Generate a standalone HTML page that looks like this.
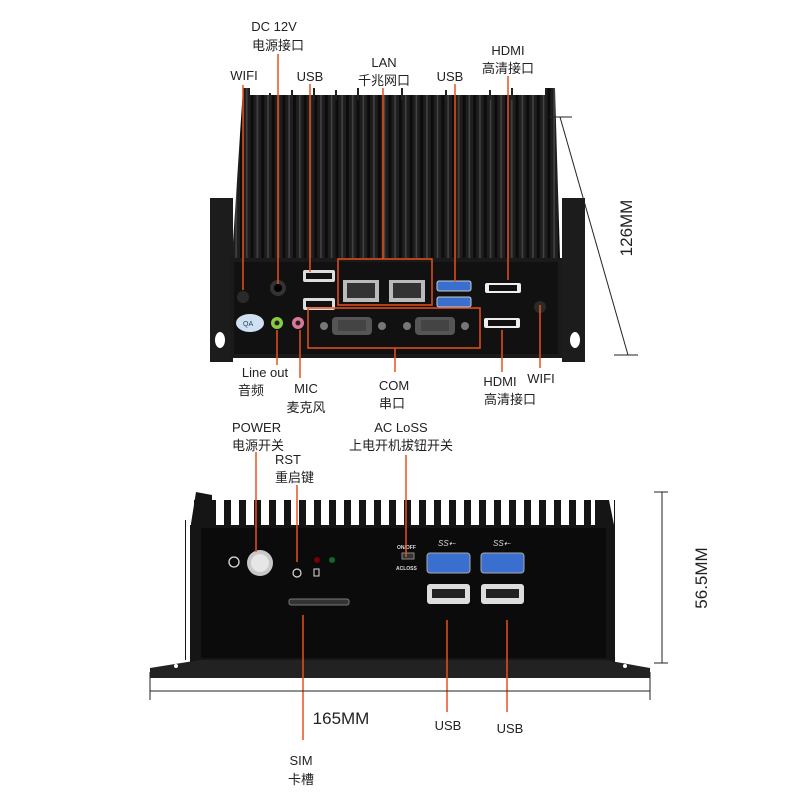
<!DOCTYPE html>
<html><head><meta charset="utf-8"><style>
html,body{margin:0;padding:0;background:#fff;width:800px;height:800px;overflow:hidden}
svg text{font-family:"Liberation Sans","Noto Sans CJK SC",sans-serif;font-size:13px;fill:#222}
</style></head><body>
<svg width="800" height="800" viewBox="0 0 800 800" xmlns="http://www.w3.org/2000/svg">
<defs>
<pattern id="fins" x="240" y="0" width="10.6" height="10" patternUnits="userSpaceOnUse">
<rect width="10.6" height="10" fill="#1e1e1e"/><rect x="0" width="3" height="10" fill="#0c0c0c"/><rect x="6" width="1.5" height="10" fill="#444"/>
</pattern>
<pattern id="finsb" x="190" y="0" width="15" height="10" patternUnits="userSpaceOnUse">
<rect width="15" height="10" fill="#fff"/><rect x="4" width="7" height="10" fill="#151515"/>
</pattern>
</defs>

<!-- TOP DEVICE -->
<path d="M210 198 L233 198 L233 362 L210 362 Z" fill="#1c1c1c"/>
<path d="M562 198 L585 198 L585 362 L562 362 Z" fill="#1c1c1c"/>
<ellipse cx="220" cy="340" rx="5" ry="8" fill="#fff"/>
<ellipse cx="575" cy="340" rx="5" ry="8" fill="#fff"/>
<path d="M243 88 L250 88 L250 95 L545 95 L545 88 L555 88 L560 258 L232 258 Z" fill="url(#fins)"/>
<g stroke="#222" stroke-width="2">
<line x1="270" y1="93" x2="270" y2="100"/><line x1="292" y1="90" x2="292" y2="100"/><line x1="314" y1="88" x2="314" y2="100"/>
<line x1="336" y1="90" x2="336" y2="100"/><line x1="358" y1="88" x2="358" y2="100"/><line x1="402" y1="88" x2="402" y2="100"/>
<line x1="446" y1="90" x2="446" y2="100"/><line x1="490" y1="90" x2="490" y2="100"/><line x1="512" y1="88" x2="512" y2="100"/>
</g>
<rect x="230" y="258" width="332" height="100" fill="#1a1a1a"/>
<rect x="234" y="262" width="324" height="92" fill="#111"/>
<circle cx="278" cy="288" r="8" fill="#333"/><circle cx="278" cy="288" r="4" fill="#000"/>
<rect x="303" y="270" width="32" height="12" rx="2" fill="#ddd"/><rect x="306" y="273" width="26" height="6" fill="#111"/>
<rect x="303" y="298" width="32" height="12" rx="2" fill="#ddd"/><rect x="306" y="301" width="26" height="6" fill="#111"/>
<rect x="343" y="280" width="36" height="22" fill="#bbb"/><rect x="347" y="283" width="28" height="15" fill="#333"/>
<rect x="389" y="280" width="36" height="22" fill="#bbb"/><rect x="393" y="283" width="28" height="15" fill="#333"/>
<rect x="437" y="281" width="34" height="10" rx="2" fill="#3a6fd0" stroke="#ccc"/>
<rect x="437" y="297" width="34" height="10" rx="2" fill="#3a6fd0" stroke="#ccc"/>
<rect x="485" y="283" width="36" height="10" rx="2" fill="#eee"/><rect x="489" y="285" width="28" height="6" fill="#111"/>
<rect x="484" y="318" width="36" height="10" rx="2" fill="#eee"/><rect x="488" y="320" width="28" height="6" fill="#111"/>
<circle cx="243" cy="297" r="6" fill="#2a2a2a"/><circle cx="540" cy="307" r="6" fill="#2a2a2a"/>
<ellipse cx="250" cy="323" rx="14" ry="9" fill="#cfe0f3"/><text x="243" y="326" style="font-size:7px;fill:#245">QA</text>
<circle cx="277" cy="323" r="6" fill="#8c4"/><circle cx="277" cy="323" r="2.5" fill="#222"/>
<circle cx="298" cy="323" r="6" fill="#d79"/><circle cx="298" cy="323" r="2.5" fill="#222"/>
<rect x="332" y="317" width="40" height="18" rx="4" fill="#555"/><rect x="338" y="320" width="28" height="11" fill="#444"/>
<rect x="415" y="317" width="40" height="18" rx="4" fill="#555"/><rect x="421" y="320" width="28" height="11" fill="#444"/>
<circle cx="324" cy="326" r="4" fill="#777"/><circle cx="382" cy="326" r="4" fill="#777"/>
<circle cx="407" cy="326" r="4" fill="#777"/><circle cx="465" cy="326" r="4" fill="#777"/>
<g stroke="#e8501c" stroke-width="1.5" fill="none">
<line x1="243" y1="85" x2="243" y2="290"/>
<line x1="278" y1="54" x2="278" y2="284"/>
<line x1="310" y1="84" x2="310" y2="272"/>
<line x1="383" y1="88" x2="383" y2="259"/>
<rect x="338" y="259" width="94" height="46"/>
<line x1="455" y1="84" x2="455" y2="282"/>
<line x1="508" y1="76" x2="508" y2="280"/>
<rect x="308" y="308" width="172" height="40"/>
<line x1="395" y1="348" x2="395" y2="372"/>
<line x1="277" y1="330" x2="277" y2="365"/>
<line x1="300" y1="330" x2="300" y2="378"/>
<line x1="502" y1="330" x2="502" y2="372"/>
<line x1="540" y1="305" x2="540" y2="368"/>
</g>
<g stroke="#222" stroke-width="1">
<line x1="549" y1="117" x2="572" y2="117"/>
<line x1="560" y1="117" x2="628" y2="355"/>
<line x1="614" y1="355" x2="638" y2="355"/>
</g>
<text transform="translate(632,228) rotate(-90)" text-anchor="middle" style="font-size:17px">126MM</text>
<text x="274" y="31" text-anchor="middle">DC 12V</text>
<text x="278" y="50" text-anchor="middle">电源接口</text>
<text x="244" y="80" text-anchor="middle">WIFI</text>
<text x="310" y="81" text-anchor="middle">USB</text>
<text x="384" y="67" text-anchor="middle">LAN</text>
<text x="384" y="85" text-anchor="middle">千兆网口</text>
<text x="450" y="81" text-anchor="middle">USB</text>
<text x="508" y="55" text-anchor="middle">HDMI</text>
<text x="508" y="73" text-anchor="middle">高清接口</text>
<text x="265" y="377" text-anchor="middle">Line out</text>
<text x="251" y="395" text-anchor="middle">音频</text>
<text x="306" y="393" text-anchor="middle">MIC</text>
<text x="306" y="412" text-anchor="middle">麦克风</text>
<text x="394" y="390" text-anchor="middle">COM</text>
<text x="392" y="408" text-anchor="middle">串口</text>
<text x="500" y="386" text-anchor="middle">HDMI</text>
<text x="510" y="404" text-anchor="middle">高清接口</text>
<text x="541" y="383" text-anchor="middle">WIFI</text>

<!-- BOTTOM DEVICE -->
<rect x="190" y="500" width="425" height="30" fill="url(#finsb)"/>
<path d="M190 530 L196 492 L212 495 L212 530 Z" fill="#151515"/>
<path d="M615 530 L609 500 L595 500 L595 530 Z" fill="#151515"/>
<rect x="185" y="520" width="6" height="140" fill="url(#finsb)"/>
<rect x="190" y="525" width="425" height="138" fill="#151515"/>
<rect x="201" y="528" width="405" height="130" fill="#0b0b0b"/>
<path d="M150 668 L200 660 L605 660 L650 668 L650 678 L150 678 Z" fill="#222"/>
<circle cx="176" cy="666" r="2" fill="#fff"/><circle cx="625" cy="666" r="2" fill="#fff"/>
<circle cx="260" cy="563" r="13" fill="#c8c8c8"/><circle cx="260" cy="563" r="9" fill="#e6e6e6"/>
<circle cx="234" cy="562" r="5" fill="none" stroke="#ddd" stroke-width="1.3"/>
<circle cx="297" cy="573" r="4" fill="none" stroke="#ddd" stroke-width="1.2"/>
<circle cx="317" cy="560" r="3" fill="#700"/><circle cx="332" cy="560" r="3" fill="#163"/>
<rect x="314" y="569" width="5" height="7" fill="none" stroke="#ddd"/>
<rect x="289" y="599" width="60" height="6" rx="2" fill="#333" stroke="#777"/>
<rect x="402" y="553" width="12" height="6" fill="#333" stroke="#888"/>
<text x="397" y="549" style="font-size:5px;fill:#ddd;font-weight:bold">ON/OFF</text>
<text x="396" y="570" style="font-size:5px;fill:#ddd;font-weight:bold">ACLOSS</text>
<rect x="427" y="553" width="43" height="20" rx="3" fill="#3a6fd0" stroke="#aaa"/>
<rect x="481" y="553" width="43" height="20" rx="3" fill="#3a6fd0" stroke="#aaa"/>
<rect x="427" y="584" width="43" height="20" rx="3" fill="#ddd"/><rect x="432" y="589" width="33" height="9" fill="#222"/>
<rect x="481" y="584" width="43" height="20" rx="3" fill="#ddd"/><rect x="486" y="589" width="33" height="9" fill="#222"/>
<text x="438" y="546" style="font-size:8px;fill:#ddd;font-style:italic">SS⇠</text>
<text x="493" y="546" style="font-size:8px;fill:#ddd;font-style:italic">SS⇠</text>
<g stroke="#e8501c" stroke-width="1.5">
<line x1="256" y1="452" x2="256" y2="552"/>
<line x1="297" y1="485" x2="297" y2="562"/>
<line x1="406" y1="455" x2="406" y2="557"/>
<line x1="303" y1="615" x2="303" y2="740"/>
<line x1="447" y1="620" x2="447" y2="712"/>
<line x1="507" y1="620" x2="507" y2="712"/>
</g>
<g stroke="#222" stroke-width="1">
<line x1="150" y1="691" x2="650" y2="691"/>
<line x1="150" y1="672" x2="150" y2="700"/>
<line x1="650" y1="672" x2="650" y2="700"/>
<line x1="654" y1="492" x2="668" y2="492"/>
<line x1="654" y1="663" x2="668" y2="663"/>
<line x1="662" y1="492" x2="662" y2="663"/>
</g>
<text transform="translate(707,578) rotate(-90)" text-anchor="middle" style="font-size:17px">56.5MM</text>
<text x="341" y="724" text-anchor="middle" style="font-size:17px">165MM</text>
<text x="232" y="432">POWER</text>
<text x="232" y="450">电源开关</text>
<text x="275" y="464">RST</text>
<text x="275" y="482">重启键</text>
<text x="401" y="432" text-anchor="middle">AC LoSS</text>
<text x="401" y="450" text-anchor="middle">上电开机拔钮开关</text>
<text x="301" y="765" text-anchor="middle">SIM</text>
<text x="301" y="784" text-anchor="middle">卡槽</text>
<text x="448" y="730" text-anchor="middle">USB</text>
<text x="510" y="733" text-anchor="middle">USB</text>
</svg>
</body></html>
